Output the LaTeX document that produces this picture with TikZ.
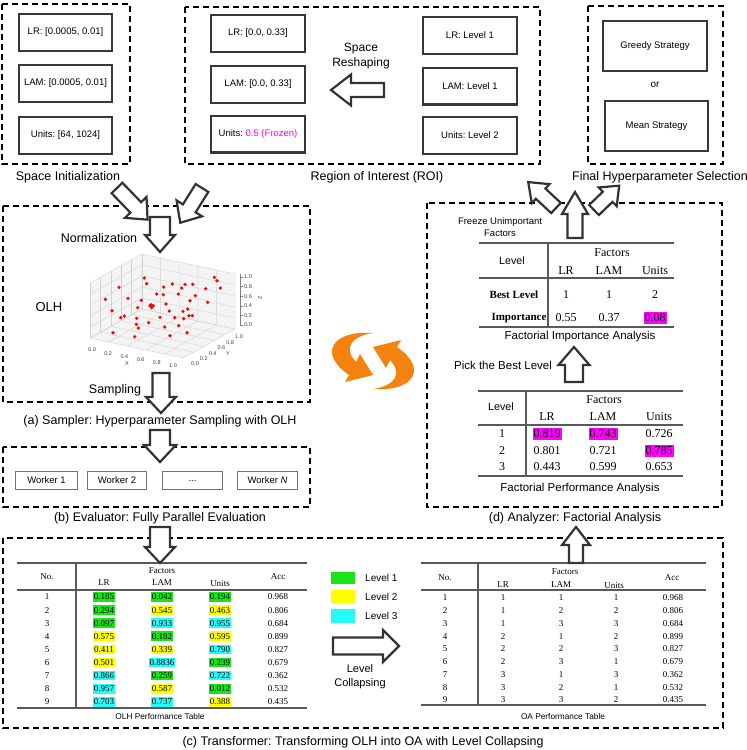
\documentclass[tikz,border=0pt]{standalone}
\usepackage{fontspec}
\setmainfont{Liberation Sans}
\newfontfamily\tnr{Liberation Serif}
\frenchspacing
\definecolor{lvA}{RGB}{25,228,25}
\definecolor{lvB}{RGB}{255,255,0}
\definecolor{lvC}{RGB}{40,250,250}
\definecolor{mag}{RGB}{255,0,255}
\definecolor{orA}{RGB}{245,130,15}
\newcommand\fsz[1]{\fontsize{#1}{#1}\selectfont}
\newcommand\blockarr[7]{%
  \begin{scope}[shift={(#1,#2)},rotate=#3]
    \draw[barrow] (0,-#5) -- ({#4-#7},-#5) -- ({#4-#7},-#6) -- (#4,0) -- ({#4-#7},#6) -- ({#4-#7},#5) -- (0,#5) -- cycle;
  \end{scope}}
\begin{document}
\begin{tikzpicture}[x=1pt,y=-1pt,
  panel/.style={draw=black, line width=2pt, dash pattern=on 6pt off 4pt},
  ibox/.style={draw=black!78, line width=2.4pt, fill=white, inner sep=0pt, font=\fsz{9.5}},
  wbox/.style={draw=black!55, line width=0.8pt, fill=white, inner sep=0pt, font=\fsz{9.5}},
  lbl/.style={inner sep=0pt, font=\fsz{12.5}},
  txt/.style={inner sep=0pt},
  barrow/.style={draw=black!80, line width=2.2pt, fill=white, line join=miter},
  tt/.style={inner sep=0pt, font=\tnr\fsz{9}},
  tb/.style={inner sep=0pt, font=\tnr\fsz{12}},
  hls/.style={inner xsep=1pt, inner ysep=1.8pt},
  hlb/.style={inner xsep=1pt, inner ysep=2.2pt},
  tabrule/.style={draw=black!65, line width=1.1pt},
  axtick/.style={inner sep=0pt, font=\fsz{5.5}, text=black!75}
]
\useasboundingbox (0,0) rectangle (747,750);
\fill[white] (0,0) rectangle (747,750);

% ---------- panels ----------
\draw[panel] (2,4) rectangle (130,164);
\draw[panel] (185,7) rectangle (540,164);
\draw[panel] (588,6) rectangle (723,164);
\draw[panel] (3,206) rectangle (310,402);
\draw[panel] (3,447) rectangle (310,507);
\draw[panel] (3,538) rectangle (723,728);
\draw[panel] (427,203) rectangle (722,507);

% ---------- space initialization ----------
\node[ibox, minimum width=93pt, minimum height=37pt] (silr) at (65.5,32.5) {LR: [0.0005, 0.01]};
\node[ibox, minimum width=93pt, minimum height=37pt] (silam) at (65.5,83.5) {LAM: [0.0005, 0.01]};
\node[ibox, minimum width=93pt, minimum height=37pt] (siun) at (65.5,135.5) {Units: [64, 1024]};
\node[lbl] (labsi) at (68,177) {Space Initialization};

% ---------- ROI ----------
\node[ibox, minimum width=93.6pt, minimum height=36.6pt] (rlr) at (258,33.5) {LR: [0.0, 0.33]};
\node[ibox, minimum width=93.6pt, minimum height=36.6pt] (rlam) at (258,84.5) {LAM: [0.0, 0.33]};
\node[ibox, minimum width=93.6pt, minimum height=36.6pt] (run) at (258,134) {Units: \textcolor{mag}{0.5 (Frozen)}};
\node[ibox, minimum width=93.6pt, minimum height=36.6pt] (qlr) at (470,35.5) {LR: Level 1};
\node[ibox, minimum width=93.6pt, minimum height=36.6pt] (qlam) at (470,86) {LAM: Level 1};
\node[ibox, minimum width=93.6pt, minimum height=36.6pt] (qun) at (470,135.5) {Units: Level 2};
\node[txt, font=\fsz{12}] (sp1) at (361,49) {Space};
\node[txt, font=\fsz{12}] (sp2) at (361,63) {Reshaping};
\blockarr{384}{90}{180}{53}{7}{15.5}{20}
\node[lbl] (labroi) at (377,177) {Region of Interest (ROI)};

% ---------- final selection ----------
\node[ibox, minimum width=103.6pt, minimum height=49.6pt] (greedy) at (655,46) {Greedy Strategy};
\node[txt, font=\fsz{10}] (ortext) at (655,85) {or};
\node[ibox, minimum width=102.6pt, minimum height=49.6pt] (mean) at (656.5,126) {Mean Strategy};
\node[lbl] (labfin) at (660,177) {Final Hyperparameter Selection};

% ---------- sampler ----------
\node[lbl] (norm) at (99,238) {Normalization};
\node[lbl, font=\fsz{13}] (olh) at (49,307) {OLH};
\node[lbl] (samp) at (115,390) {Sampling};
\node[lbl] (laba) at (160,421) {(a) Sampler: Hyperparameter Sampling with OLH};

% 3D scatter plot
\begin{scope}[shift={(90,338)}, x={(93pt,-20pt)}, y={(52pt,29pt)}, z={(0pt,55pt)}]
  \fill[gray!9] (0,0,0) -- (1,0,0) -- (1,1,0) -- (0,1,0) -- cycle;
  \fill[gray!9] (0,0,0) -- (0,1,0) -- (0,1,1) -- (0,0,1) -- cycle;
  \fill[gray!9] (0,1,0) -- (1,1,0) -- (1,1,1) -- (0,1,1) -- cycle;
  \foreach \t in {0,0.2,0.4,0.6,0.8,1}{
    \draw[gray!35, line width=0.4pt] (\t,0,0) -- (\t,1,0) -- (\t,1,1);
    \draw[gray!35, line width=0.4pt] (0,\t,0) -- (1,\t,0);
    \draw[gray!35, line width=0.4pt] (0,\t,0) -- (0,\t,1);
    \draw[gray!35, line width=0.4pt] (0,0,\t) -- (0,1,\t) -- (1,1,\t);
  }
\end{scope}
\draw[black!50, line width=0.5pt] (240,326) -- (240,274);
\foreach \lab [count=\k from 0] in {0.0,0.2,0.4,0.6,0.8,1.0}{
  \node[axtick] (xt\k) at ({92+16.2*\k},{350+3.2*\k}) {\lab};
  \node[axtick] (yt\k) at ({195+8.8*\k},{364-5.4*\k}) {\lab};
  \node[axtick] (zt\k) at (248,{325-9.6*\k}) {\lab};
  \draw[black!50, line width=0.4pt] (240,{325-9.6*\k}) -- (242.5,{325-9.6*\k});
}
\node[axtick] (xlab) at (127,364) {X};
\node[axtick] (ylab) at (228,354) {Y};
\node[axtick, rotate=90] (zlab) at (260,298) {Z};
\foreach \px/\py in {144.3/278,146.7/283.7,119/287.3,105.3/299.3,128/298.3,112/310.7,120.7/317.7,124.3/316,137.7/307.7,141.3/300.3,150/305.7,153.3/305.7,151.7/307.7,151/304.7,156.7/294,163.3/294.7,163.7/287,172.3/284,181.7/288,185/284.3,192.7/284.3,178.3/294,190/300.7,195.3/295.7,205.7/288.7,214.3/277.3,217/280.7,220.3/288,207.7/302.3,166/304,169.3/311,183/311.3,187.7/309,189/315.7,192.3/315.7,183.7/318.7,174.7/317.7,160/317.3,148.7/322.7,136.7/318.3,136.3/324.3,138.3/328,113/332.7,134.7/336.7,164.7/327,170/335.7,178.7/325.7,187/332.7}{
  \fill[red] (\px,\py) circle (1.8);
}

% ---------- evaluator ----------
\node[wbox, minimum width=62.2pt, minimum height=18.2pt] (w1) at (46.5,480.5) {Worker 1};
\node[wbox, minimum width=59.2pt, minimum height=18.2pt] (w2) at (117,480.5) {Worker 2};
\node[wbox, minimum width=60.2pt, minimum height=18.2pt] (wd) at (192.5,480.5) {...};
\node[wbox, minimum width=60.2pt, minimum height=18.2pt] (wn) at (267.5,480.5) {Worker \textit{N}};
\node[lbl] (labb) at (160,518) {(b) Evaluator: Fully Parallel Evaluation};

% ---------- transformer ----------
\draw[tabrule] (17,563) -- (307,563);
\draw[tabrule] (17,590) -- (307,590);
\draw[tabrule] (17,708) -- (307,708);
\draw[tabrule] (76,563) -- (76,708);
\node[tt] (ohno) at (47,577) {No.};
\node[tt] (ohfac) at (162,571) {Factors};
\node[tt] (ohlr) at (104,583) {LR};
\node[tt] (ohlam) at (162,583) {LAM};
\node[tt] (ohun) at (220,584) {Units};
\node[tt] (ohacc) at (278,577) {Acc};
\foreach \n/\va/\ca/\vb/\cb/\vc/\cc/\acc [count=\i from 0] in {
1/0.185/lvA/0.042/lvA/0.194/lvA/0.968,
2/0.294/lvA/0.545/lvB/0.463/lvB/0.806,
3/0.097/lvA/0.933/lvC/0.955/lvC/0.684,
4/0.575/lvB/0.182/lvA/0.595/lvB/0.899,
5/0.411/lvB/0.339/lvB/0.790/lvC/0.827,
6/0.501/lvB/0.8836/lvC/0.239/lvA/0.679,
7/0.866/lvC/0.259/lvA/0.722/lvC/0.362,
8/0.957/lvC/0.587/lvB/0.012/lvA/0.532,
9/0.703/lvC/0.737/lvC/0.388/lvB/0.435}{
  \pgfmathsetmacro\yy{597+13.1*\i}
  \node[tt] (on\n) at (47,\yy) {\n};
  \node[tt, hls, fill=\ca] (oa\n) at (104,\yy) {\va};
  \node[tt, hls, fill=\cb] (ob\n) at (162,\yy) {\vb};
  \node[tt, hls, fill=\cc] (oc\n) at (220,\yy) {\vc};
  \node[tt] (oacc\n) at (278,\yy) {\acc};
}
\node[txt, font=\fsz{8.3}] (olhcap) at (160,717) {OLH Performance Table};

% legend
\node[fill=lvA, minimum width=24pt, minimum height=12pt, inner sep=0pt] (lg1) at (343,578) {};
\node[fill=lvB, minimum width=24pt, minimum height=13pt, inner sep=0pt] (lg2) at (343,596.5) {};
\node[fill=lvC, minimum width=24pt, minimum height=14pt, inner sep=0pt] (lg3) at (343,616) {};
\node[txt, font=\fsz{10}, anchor=west] (lt1) at (365,578) {Level 1};
\node[txt, font=\fsz{10}, anchor=west] (lt2) at (365,597) {Level 2};
\node[txt, font=\fsz{10}, anchor=west] (lt3) at (365,616) {Level 3};
\blockarr{333}{646}{0}{66}{8.5}{16}{16}
\node[txt, font=\fsz{11}] (lc1) at (360,669) {Level};
\node[txt, font=\fsz{11}] (lc2) at (360,684) {Collapsing};

% OA table
\draw[tabrule] (421,563) -- (706,563);
\draw[tabrule] (421,590) -- (706,590);
\draw[tabrule] (421,705) -- (706,705);
\draw[tabrule] (478,563) -- (478,705);
\node[tt] (oano) at (445,578) {No.};
\node[tt] (oafac) at (565,572) {Factors};
\node[tt] (oalr) at (503,585) {LR};
\node[tt] (oalam) at (561,585) {LAM};
\node[tt] (oaun) at (614,586) {Units};
\node[tt] (oaacc) at (672,578) {Acc};
\foreach \n/\va/\vb/\vc/\acc [count=\i from 0] in {1/1/1/1/0.968, 2/1/2/2/0.806, 3/1/3/3/0.684, 4/2/1/2/0.899, 5/2/2/3/0.827, 6/2/3/1/0.679, 7/3/1/3/0.362, 8/3/2/1/0.532, 9/3/3/2/0.435}{
  \pgfmathsetmacro\yy{598+12.75*\i}
  \node[tt] (pn\n) at (445,\yy) {\n};
  \node[tt] (pa\n) at (503,\yy) {\va};
  \node[tt] (pb\n) at (561,\yy) {\vb};
  \node[tt] (pc\n) at (616,\yy) {\vc};
  \node[tt] (pacc\n) at (673,\yy) {\acc};
}
\node[txt, font=\fsz{8.3}] (oacap) at (563,717) {OA Performance Table};
\node[lbl] (labc) at (363,742) {(c) Transformer: Transforming OLH into OA with Level Collapsing};

% ---------- analyzer ----------
\node[txt, font=\fsz{9.5}] (fz1) at (500,222) {Freeze Unimportant};
\node[txt, font=\fsz{9.5}] (fz2) at (500,233) {Factors};
\draw[tabrule] (479,243) -- (674,243);
\draw[tabrule] (479,278) -- (674,278);
\draw[tabrule] (479,327) -- (674,327);
\draw[tabrule] (548,243) -- (548,327);
\node[txt, font=\fsz{10.7}] (itlev) at (512,261) {Level};
\node[tb] (itfac) at (612,253) {Factors};
\node[tb] (itlr) at (566,271) {LR};
\node[tb] (itlam) at (609,271) {LAM};
\node[tb] (itun) at (655,271) {Units};
\node[tb, font=\tnr\bfseries\fsz{11}] (itbl) at (514,295) {Best Level};
\node[tb] (itb1) at (566,295) {1};
\node[tb] (itb2) at (609,295) {1};
\node[tb] (itb3) at (655,295) {2};
\node[tb, font=\tnr\bfseries\fsz{11}] (itim) at (519,318) {Importance};
\node[tb] (iti1) at (566,318) {0.55};
\node[tb] (iti2) at (609,318) {0.37};
\node[tb, hlb, fill=mag] (iti3) at (655,318) {0.08};
\node[txt, font=\fsz{11.5}] (itcap) at (580,337) {Factorial Importance Analysis};

\node[txt, font=\fsz{11.5}] (pick) at (503,365) {Pick the Best Level};
\draw[tabrule] (478,391) -- (683,391);
\draw[tabrule] (478,425) -- (683,425);
\draw[tabrule] (478,476) -- (683,476);
\draw[tabrule] (526,391) -- (526,476);
\node[txt, font=\fsz{10.7}] (ptlev) at (501,407) {Level};
\node[tb] (ptfac) at (604,400) {Factors};
\node[tb] (ptlr) at (547,417) {LR};
\node[tb] (ptlam) at (603,417) {LAM};
\node[tb] (ptun) at (659,417) {Units};
\node[tb] (ptl1) at (502,434) {1};
\node[tb, hlb, fill=mag] (pt11) at (547,434) {0.819};
\node[tb, hlb, fill=mag] (pt12) at (603,434) {0.743};
\node[tb] (pt13) at (659,434) {0.726};
\node[tb] (ptl2) at (502,451) {2};
\node[tb] (pt21) at (547,451) {0.801};
\node[tb] (pt22) at (603,451) {0.721};
\node[tb, hlb, fill=mag] (pt23) at (659,451) {0.785};
\node[tb] (ptl3) at (502,467) {3};
\node[tb] (pt31) at (547,467) {0.443};
\node[tb] (pt32) at (603,467) {0.599};
\node[tb] (pt33) at (659,467) {0.653};
\node[txt, font=\fsz{11.5}] (ptcap) at (580,489) {Factorial Performance Analysis};
\node[lbl] (labd) at (575,518) {(d) Analyzer: Factorial Analysis};

% ---------- block arrows ----------
\blockarr{117}{188}{-46}{44}{7.5}{15}{17}
\blockarr{202}{188}{-122}{41}{7.5}{15}{17}
\blockarr{160}{217}{-90}{35}{10}{15}{17}
\blockarr{161}{373}{-90}{40}{8.5}{15}{16}
\blockarr{160}{430}{-90}{32}{10}{16}{17}
\blockarr{160}{527}{-90}{36}{10}{15}{16}
\blockarr{576}{563}{90}{36}{7}{14}{18}
\blockarr{574}{382}{90}{35}{9}{15.5}{18}
\blockarr{575}{238}{90}{46}{7.5}{13}{22}
\blockarr{556}{208}{137}{38}{7}{13}{17}
\blockarr{594}{210}{44}{35}{7}{13}{16}

% ---------- orange cycle arrows ----------
\foreach \r in {0,180}{
  \begin{scope}[shift={(373,361)}, rotate=\r]
    \fill[orA] (0,-28) .. controls (-40,-31) and (-56,-8) .. (-24,14) -- (-28,21) -- (0,14) -- (-13,-7) -- (-17,1) .. controls (-31,-14) and (-20,-25) .. (0,-28) -- cycle;
  \end{scope}
}
\end{tikzpicture}
\end{document}
